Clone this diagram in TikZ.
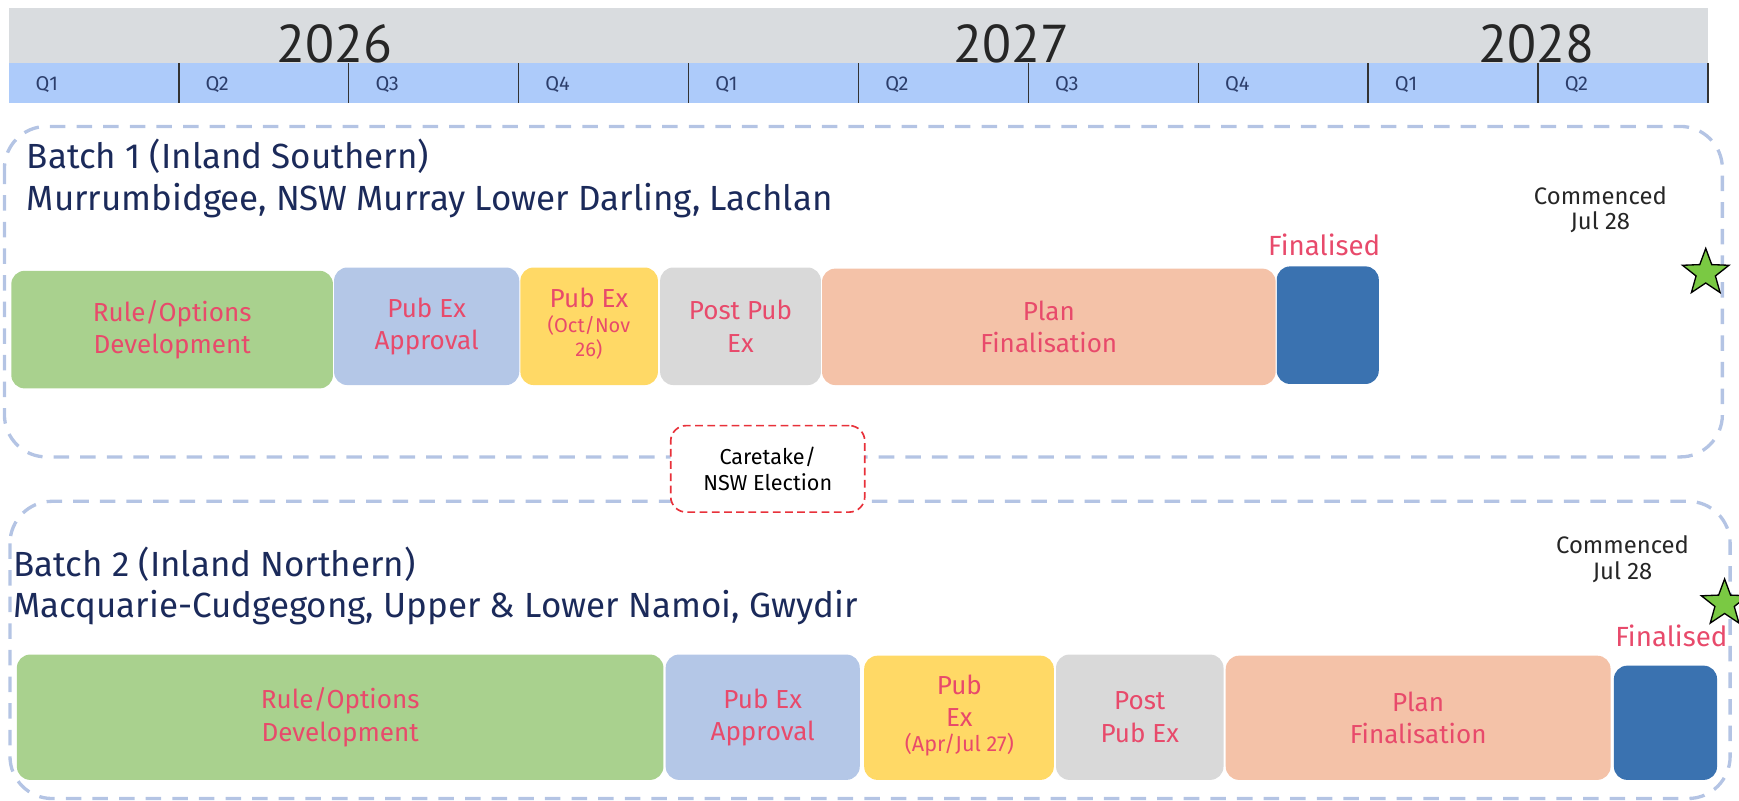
\documentclass[tikz,border=0pt]{standalone}
\usepackage{fontspec}
\setmainfont{Fira Sans}
\newfontfamily\yearfont{PT Sans}
\usetikzlibrary{shapes.geometric}
\definecolor{hdrgray}{HTML}{D9DCDF}
\definecolor{hdrblue}{HTML}{ADCBFA}
\definecolor{qtxt}{HTML}{2C3E6B}
\definecolor{navy}{HTML}{1B2A5A}
\definecolor{cgreen}{HTML}{A9D18E}
\definecolor{cblue}{HTML}{B4C7E7}
\definecolor{cyellow}{HTML}{FFD966}
\definecolor{cgray}{HTML}{D9D9D9}
\definecolor{csalmon}{HTML}{F4C2A8}
\definecolor{cdark}{HTML}{3A72B0}
\definecolor{ptxt}{HTML}{E84A6B}
\definecolor{dashc}{HTML}{B4C4E4}
\definecolor{redd}{HTML}{E8313A}
\definecolor{sgreen}{HTML}{7AC943}
\tikzset{
  bar/.style={rounded corners=12pt, inner sep=0pt, align=center, text=ptxt,
    font=\fontsize{23.5}{29}\selectfont, anchor=north west},
  ytxt/.style={text=ptxt, anchor=base, inner sep=0pt},
  batchbox/.style={draw=dashc, line width=3pt, dash pattern=on 14pt off 10pt, rounded corners=38pt},
  yearlbl/.style={font=\yearfont\fontsize{48}{50}\selectfont, text=black!85, anchor=base, inner sep=0pt},
  qlbl/.style={font=\fontsize{18}{20}\selectfont, text=qtxt, anchor=base west, inner sep=0pt},
  btitle/.style={font=\fontsize{31.5}{34}\selectfont, text=navy, anchor=base west, inner sep=0pt},
  note/.style={font=\fontsize{21.5}{23}\selectfont, text=black!85, align=center, inner sep=0pt},
  finl/.style={font=\fontsize{25}{28}\selectfont, text=ptxt, anchor=base, inner sep=0pt},
  starmark/.style={star, star points=5, star point ratio=2.4, minimum size=44pt, inner sep=0pt,
    fill=sgreen, draw=black, line width=1.2pt}
}
\begin{document}
\begin{tikzpicture}[x=1pt,y=-1pt]
\useasboundingbox (0,0) rectangle (1568,722);
\clip (0,0) rectangle (1568,722);
% header
\fill[hdrgray] (8,7) rectangle (1540,57);
\fill[hdrblue] (8,57) rectangle (1540,93);
\foreach \i in {1,...,10} {
  \draw[black!80, line width=1.3pt] ({8+153.2*\i},57) -- ({8+153.2*\i},93);
}
\node[yearlbl] (y26) at (302,56) {2026};
\node[yearlbl] (y27) at (912,56) {2027};
\node[yearlbl] (y28) at (1385,56) {2028};
\foreach \q [count=\i from 0] in {Q1,Q2,Q3,Q4,Q1,Q2,Q3,Q4,Q1,Q2} {
  \node[qlbl] (q\i) at ({8+153.2*\i+24},82) {\q};
}
% batch boxes
\draw[batchbox] (4,114) rectangle (1553,412);
\draw[batchbox] (9,452) rectangle (1560,720);
% caretake
\node[draw=redd, fill=white, dash pattern=on 7pt off 4pt, line width=1.5pt, rounded corners=14pt,
  minimum width=175pt, minimum height=78pt, anchor=north west, inner sep=0pt] (care) at (604,383) {};
\node[note, font=\fontsize{19.5}{24}\selectfont, text=black] (caretxt) at (care.center) {Caretake/\\NSW Election};
% batch 1 text
\node[btitle] (b1t) at (24,152) {Batch 1 (Inland Southern)};
\node[btitle] (b1r) at (24,190) {Murrumbidgee, NSW Murray Lower Darling, Lachlan};
% batch 1 bars
\node[bar, fill=cgreen, minimum width=290pt, minimum height=106pt] (a1) at (10,244) {Rule/Options\\Development};
\node[bar, fill=cblue, minimum width=167pt, minimum height=106pt] (a2) at (301,241) {Pub Ex\\Approval};
\node[bar, fill=cyellow, minimum width=124pt, minimum height=106pt] (a3) at (469,241) {};
\node[ytxt, font=\fontsize{23.5}{25}\selectfont] (a3t1) at (531,277) {Pub Ex};
\node[ytxt, font=\fontsize{18}{20}\selectfont] (a3t2) at (531,300) {(Oct/Nov};
\node[ytxt, font=\fontsize{18}{20}\selectfont] (a3t3) at (531,321) {26)};
\node[bar, fill=cgray, minimum width=145pt, minimum height=106pt] (a4) at (595,241) {Post Pub\\Ex};
\node[bar, fill=csalmon, minimum width=409pt, minimum height=105pt] (a5) at (741,242) {Plan\\Finalisation};
\node[bar, fill=cdark, minimum width=92pt, minimum height=106pt] (a6) at (1151,240) {};
\node[finl] (a6l) at (1194,230) {Finalised};
\node[note] (c1) at (1443,189) {Commenced\\Jul 28};
\node[starmark] (s1) at (1538,246) {};
% batch 2 text
\node[btitle] (b2t) at (12,520) {Batch 2 (Inland Northern)};
\node[btitle] (b2r) at (12,557) {Macquarie-Cudgegong, Upper \& Lower Namoi, Gwydir};
% batch 2 bars
\node[bar, fill=cgreen, minimum width=583pt, minimum height=113pt] (d1) at (15,590) {Rule/Options\\Development};
\node[bar, fill=cblue, minimum width=175pt, minimum height=113pt] (d2) at (600,590) {Pub Ex\\Approval};
\node[bar, fill=cyellow, minimum width=171pt, minimum height=112pt] (d3) at (779,591) {};
\node[ytxt, font=\fontsize{23.5}{25}\selectfont] (d3t1) at (865,626) {Pub};
\node[ytxt, font=\fontsize{23.5}{25}\selectfont] (d3t2) at (865,655) {Ex};
\node[ytxt, font=\fontsize{19.5}{21}\selectfont] (d3t3) at (865,678) {(Apr/Jul 27)};
\node[bar, fill=cgray, minimum width=151pt, minimum height=113pt] (d4) at (952,590) {Post\\Pub Ex};
\node[bar, fill=csalmon, minimum width=347pt, minimum height=112pt] (d5) at (1105,591) {Plan\\Finalisation};
\node[bar, fill=cdark, minimum width=93pt, minimum height=103pt] (d6) at (1455,600) {};
\node[finl] (d6l) at (1507,583) {Finalised};
\node[note] (c2) at (1463,504) {Commenced\\Jul 28};
\node[starmark] (s2) at (1555,544) {};
\end{tikzpicture}
\end{document}
